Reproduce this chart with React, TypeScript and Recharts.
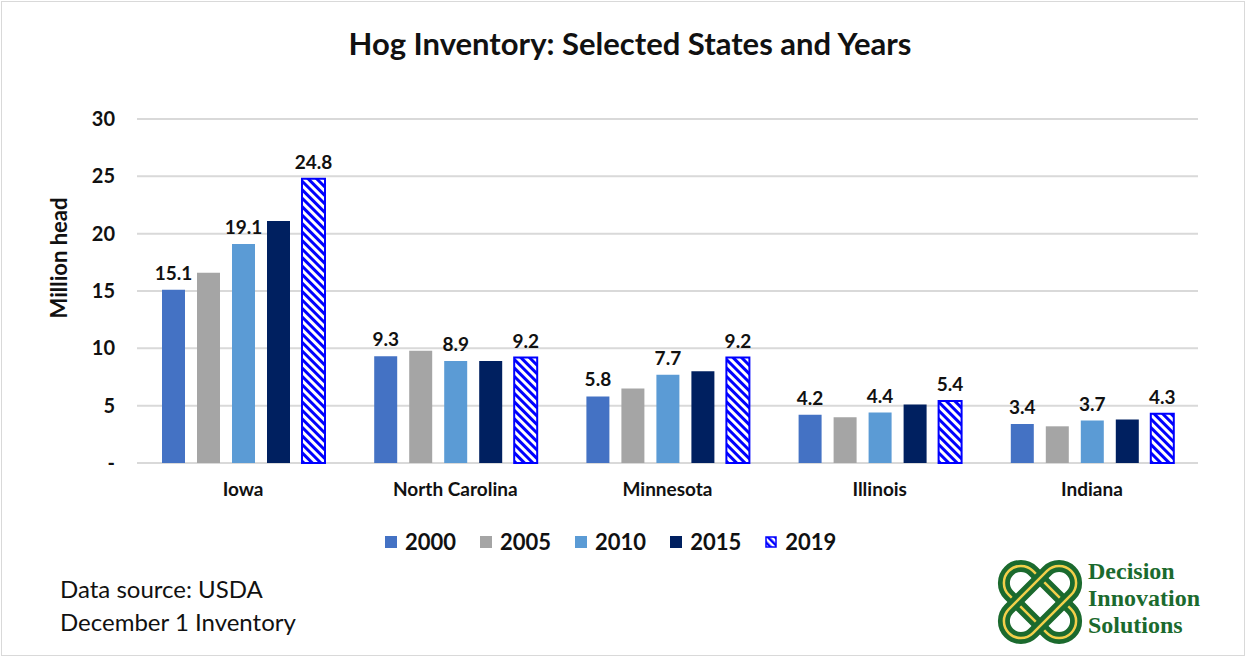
import React from 'react';
import { BarChart, Bar, XAxis, YAxis, CartesianGrid, LabelList } from 'recharts';

const states = ['Iowa', 'North Carolina', 'Minnesota', 'Illinois', 'Indiana'];
const years = ['2000', '2005', '2010', '2015', '2019'];
const inv2000 = [15.1, 9.3, 5.8, 4.2, 3.4];
const inv2005 = [16.6, 9.8, 6.5, 4.0, 3.2];
const inv2010 = [19.1, 8.9, 7.7, 4.4, 3.7];
const inv2015 = [21.1, 8.9, 8.0, 5.1, 3.8];
const inv2019 = [24.8, 9.2, 9.2, 5.4, 4.3];
const yTicks = [0, 5, 10, 15, 20, 25, 30];

const data = states.map((name, i) => ({
  name,
  y2000: inv2000[i],
  y2005: inv2005[i],
  y2010: inv2010[i],
  y2015: inv2015[i],
  y2019: inv2019[i],
}));

const colors: Record<string, string> = {
  '2000': '#4472C4',
  '2005': '#A5A5A5',
  '2010': '#5B9BD5',
  '2015': '#002060',
  '2019': 'url(#hatch)',
};

const FONT = 'Lato, "Open Sans", sans-serif';
const labelStyle = { fontSize: 19, fontWeight: 700, fill: '#111', fontFamily: FONT };

function LegendBox() {
  return (
    <div style={{ position: 'absolute', left: 385, top: 528, display: 'flex', gap: 24 }}>
      {years.map((y) => (
        <div key={y} style={{ display: 'flex', alignItems: 'center', gap: 8 }}>
          <svg width={12} height={12}>
            <defs>
              <pattern id={`lh${y}`} width="5" height="5" patternUnits="userSpaceOnUse" patternTransform="rotate(-45)">
                <rect width="5" height="5" fill="#fff" />
                <rect width="2.5" height="5" fill="#0000FF" />
              </pattern>
            </defs>
            {y === '2019' ? (
              <rect x={1} y={1} width={10} height={10} fill={`url(#lh${y})`} stroke="#0000FF" strokeWidth={1.5} />
            ) : (
              <rect x={0} y={0} width={12} height={12} fill={colors[y]} />
            )}
          </svg>
          <span style={{ fontSize: 22, fontWeight: 700, color: '#111' }}>{y}</span>
        </div>
      ))}
    </div>
  );
}

function Logo() {
  return (
    <svg width={96} height={96} viewBox="-48 -48 96 96" style={{ position: 'absolute', left: 992, top: 554 }}>
      {[45, -45].map((a) => (
        <g key={a} transform={`rotate(${a})`}>
          <rect x={-44} y={-17} width={88} height={34} rx={17} fill="none" stroke="#1B6A2E" strokeWidth={12} />
          <rect x={-44} y={-17} width={88} height={34} rx={17} fill="none" stroke="#F2CF4A" strokeWidth={2.5} />
        </g>
      ))}
    </svg>
  );
}

export default function App() {
  return (
    <div style={{ position: 'absolute', left: 0, top: 0, width: 1250, height: 658, background: '#fff', fontFamily: FONT }}>
      <div style={{ position: 'absolute', left: 1, top: 1, width: 1242, height: 653, border: '1px solid #d9d9d9' }} />
      <div style={{ position: 'absolute', left: 0, top: 24, width: 1260, textAlign: 'center', fontSize: 31, fontWeight: 700, color: '#111' }}>
        Hog Inventory: Selected States and Years
      </div>
      <div
        style={{
          position: 'absolute',
          left: 58,
          top: 258,
          transform: 'translate(-50%, -50%) rotate(-90deg)',
          fontSize: 22,
          fontWeight: 700,
          color: '#111',
          whiteSpace: 'nowrap',
        }}
      >
        Million head
      </div>
      <BarChart
        width={1250}
        height={658}
        data={data}
        margin={{ top: 119, right: 52, left: 0, bottom: 155 }}
        barSize={23}
        barGap={12}
        style={{ position: 'absolute', left: 0, top: 0 }}
      >
        <defs>
          <pattern id="hatch" width="6" height="6" patternUnits="userSpaceOnUse" patternTransform="rotate(-45)">
            <rect width="6" height="6" fill="#fff" />
            <rect width="3" height="6" fill="#0000FF" />
          </pattern>
        </defs>
        <CartesianGrid vertical={false} stroke="#d9d9d9" strokeWidth={2} />
        <XAxis
          dataKey="name"
          axisLine={false}
          tickLine={false}
          height={40}
          tick={{ fontSize: 19, fontWeight: 700, fill: '#111', fontFamily: FONT }}
          dy={12}
        />
        <YAxis
          width={137}
          domain={[0, 30]}
          ticks={yTicks}
          axisLine={false}
          tickLine={false}
          tickFormatter={(v: number) => (v === 0 ? '-' : String(v))}
          tick={{ fontSize: 20, fontWeight: 700, fill: '#111', fontFamily: FONT }}
          dx={-14}
        />
        <Bar dataKey="y2000" name="2000" fill={colors['2000']} isAnimationActive={false}>
          <LabelList dataKey="y2000" position="top" offset={10} style={labelStyle} />
        </Bar>
        <Bar dataKey="y2005" name="2005" fill={colors['2005']} isAnimationActive={false} />
        <Bar dataKey="y2010" name="2010" fill={colors['2010']} isAnimationActive={false}>
          <LabelList dataKey="y2010" position="top" offset={10} style={labelStyle} />
        </Bar>
        <Bar dataKey="y2015" name="2015" fill={colors['2015']} isAnimationActive={false} />
        <Bar dataKey="y2019" name="2019" fill={colors['2019']} stroke="#0000FF" strokeWidth={2} isAnimationActive={false}>
          <LabelList dataKey="y2019" position="top" offset={10} style={labelStyle} />
        </Bar>
      </BarChart>
      <LegendBox />
      <div style={{ position: 'absolute', left: 60, top: 572, fontSize: 24, color: '#111', lineHeight: '33px' }}>
        Data source: USDA
        <br />
        December 1 Inventory
      </div>
      <Logo />
      <div
        style={{
          position: 'absolute',
          left: 1088,
          top: 558,
          fontFamily: '"Liberation Serif", serif',
          fontWeight: 700,
          fontSize: 24,
          lineHeight: '27px',
          color: '#1B6A2E',
        }}
      >
        Decision
        <br />
        Innovation
        <br />
        Solutions
      </div>
    </div>
  );
}
